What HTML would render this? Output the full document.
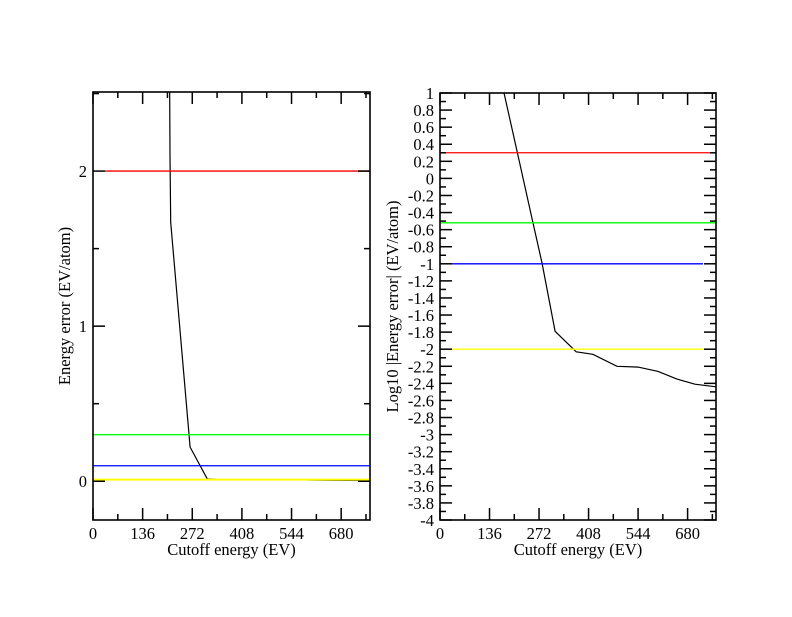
<!DOCTYPE html>
<html><head><meta charset="utf-8"><style>
html,body{margin:0;padding:0;background:#fff;}
svg text{font-family:"Liberation Serif",serif;font-size:16.5px;fill:#000;}
</style></head><body>
<svg id="chart" width="792" height="612" xmlns="http://www.w3.org/2000/svg">
<rect width="792" height="612" fill="#fff"/>
</svg>
<script>
const xTicks = [0, 136, 272, 408, 544, 680];
const leftYTicks = [0, 1, 2];
const rightYTicks = [1,0.8,0.6,0.4,0.2,0,-0.2,-0.4,-0.6,-0.8,-1,-1.2,-1.4,-1.6,-1.8,-2,-2.2,-2.4,-2.6,-2.8,-3,-3.2,-3.4,-3.6,-3.8,-4];
const leftEv = [209, 211, 213, 266, 313, 340, 374, 420, 486, 544, 599, 651, 758];
const leftErr = [3.0, 2.1, 1.67, 0.22, 0.016, 0.011, 0.0105, 0.0102, 0.01, 0.0098, 0.008, 0.006, 0.005];
const rightEv = [160, 212, 255, 280, 316, 374, 420, 486, 544, 599, 651, 700, 758];
const rightLog = [1.3, 0.31, -0.51, -0.99, -1.79, -2.03, -2.06, -2.2, -2.21, -2.26, -2.35, -2.41, -2.44];
const leftRefVals = [2, 0.3, 0.1, 0.01];
const rightRefVals = [0.3, -0.52, -1, -2];
const refColors = ['#ff0000', '#00ff00', '#0000ff', '#ffff00'];

const svg = document.getElementById('chart');
const NS = 'http://www.w3.org/2000/svg';
function mk(tag, attrs, parent){const e=document.createElementNS(NS,tag);for(const k in attrs)e.setAttribute(k,attrs[k]);(parent||svg).appendChild(e);return e;}

function panel(cfg){
  const g = mk('g',{});
  
  
  const X = v => cfg.x0 + (v - cfg.xmin) / (cfg.xmax - cfg.xmin) * (cfg.x1 - cfg.x0);
  const Y = v => cfg.y1 - (v - cfg.ymin) / (cfg.ymax - cfg.ymin) * (cfg.y1 - cfg.y0);
  const cid = cfg.name + '-clip';
  const defs = mk('defs',{},g);
  const cp = mk('clipPath',{id:cid},defs);
  mk('rect',{x:cfg.x0,y:cfg.y0,width:cfg.x1-cfg.x0,height:cfg.y1-cfg.y0},cp);
  // curve
  const pts = cfg.ev.map((e,i)=>X(e).toFixed(1)+','+Y(cfg.vals[i]).toFixed(1)).join(' ');
  const pl = mk('polyline',{points:pts,fill:'none',stroke:'#000','stroke-width':1.2,'clip-path':'url(#'+cid+')'},g);
  
  
  // reference lines
  cfg.refs.forEach((v,i)=>{
    const l = mk('line',{x1:cfg.refX[i][0],x2:cfg.refX[i][1],y1:Y(v),y2:Y(v),stroke:refColors[i],'stroke-width':(i===3 && cfg.thickYellow)?2:1.3,'clip-path':'url(#'+cid+')'},g);
    
    
  });
  // frame
  const fr = mk('rect',{x:cfg.x0,y:cfg.y0,width:cfg.x1-cfg.x0,height:cfg.y1-cfg.y0,fill:'none',stroke:'#000','stroke-width':1.6},g);
  
  
  // x ticks
  for(let v=0; v<=cfg.xmax; v+=68){
    const major = (v % 136) === 0;
    const len = major ? 12 : 6;
    const x = X(v);
    mk('line',{x1:x,x2:x,y1:cfg.y1,y2:cfg.y1-len,stroke:'#000','stroke-width':1.5},g);
    mk('line',{x1:x,x2:x,y1:cfg.y0,y2:cfg.y0+len,stroke:'#000','stroke-width':1.5},g);
  }
  xTicks.forEach(v=>{
    const t = mk('text',{x:X(v),y:cfg.y1+19,'text-anchor':'middle'},g);
    t.textContent = v;
    
    
  });
  // y ticks
  const kStart = Math.ceil((cfg.ymin - cfg.yMajorBase)/cfg.yMinorStep - 1e-9);
  for(let k=kStart; ; k++){
    const v = cfg.yMajorBase + k*cfg.yMinorStep;
    if(v > cfg.ymax + 1e-9) break;
    const rel = (v - cfg.yMajorBase)/cfg.yMajorStep;
    const major = Math.abs(rel - Math.round(rel)) < 1e-6;
    const len = major ? 12 : 6;
    const y = Y(v);
    mk('line',{x1:cfg.x0,x2:cfg.x0+len,y1:y,y2:y,stroke:'#000','stroke-width':1.5},g);
    mk('line',{x1:cfg.x1,x2:cfg.x1-len,y1:y,y2:y,stroke:'#000','stroke-width':1.5},g);
  }
  cfg.yTicks.forEach(v=>{
    const t = mk('text',{x:cfg.x0-6,y:Y(v)+6,'text-anchor':'end'},g);
    t.textContent = String(Math.round(v*10)/10);
    
    
  });
  const xt = mk('text',{x:(cfg.x0+cfg.x1)/2,y:cfg.y1+35,'text-anchor':'middle'},g);
  xt.textContent = 'Cutoff energy (EV)';
  
  
  const yt = mk('text',{x:0,y:0,'text-anchor':'middle',transform:'translate('+cfg.yTitleX+','+(cfg.y0+cfg.y1)/2+') rotate(-90)'},g);
  yt.textContent = cfg.yTitle;
  
  
}

panel({name:'left-panel', x0:93, x1:370, y0:92, y1:520, xmin:0, xmax:759, ymin:-0.25, ymax:2.51,
  ev:leftEv, vals:leftErr, refs:leftRefVals, thickYellow:true,
  refX:[[105,370],[93,370],[93,370],[93,370]],
  yMinorStep:0.5, yMajorStep:1, yMajorBase:0, yTicks:leftYTicks,
  yTitle:'Energy error (EV/atom)', yTitleX:70});
panel({name:'right-panel', x0:440, x1:716, y0:93, y1:520, xmin:0, xmax:758, ymin:-4, ymax:1,
  ev:rightEv, vals:rightLog, refs:rightRefVals, thickYellow:false,
  refX:[[446,710],[440,716],[452,703],[452,703]],
  yMinorStep:0.1, yMajorStep:0.2, yMajorBase:0, yTicks:rightYTicks,
  yTitle:'Log10 |Energy error| (EV/atom)', yTitleX:398});
</script>
</body></html>
